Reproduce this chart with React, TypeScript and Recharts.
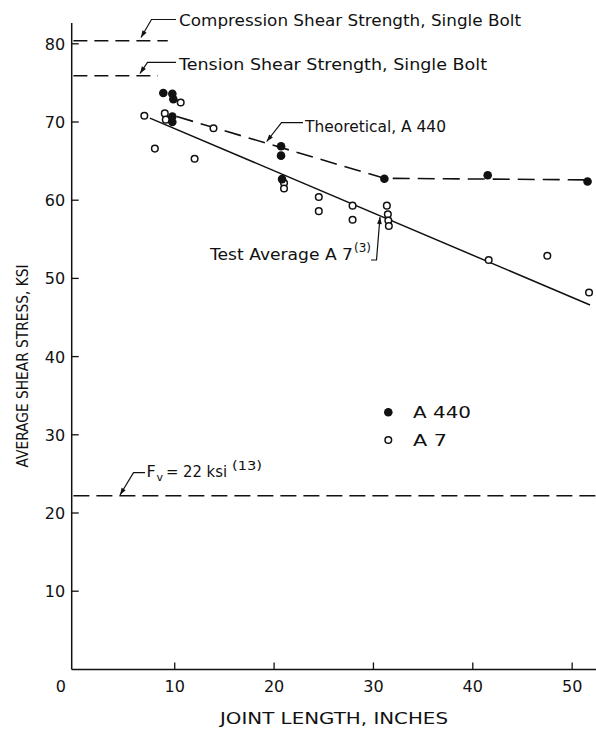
import React from 'react';
import { ComposedChart, XAxis, YAxis, Scatter, Line } from 'recharts';

// ---------- data ----------
const xTicks = [0, 10, 20, 30, 40, 50];
const yTicks = [10, 20, 30, 40, 50, 60, 70, 80];

const a440Length = [8.85, 9.76, 9.86, 9.76, 9.76, 20.7, 20.7, 20.8, 31.1, 41.5, 51.55];
const a440Stress = [73.7, 73.6, 72.9, 70.7, 70.0, 66.9, 65.7, 62.7, 62.75, 63.2, 62.4];

const a7Length = [6.94, 8.0, 9.0, 9.1, 10.6, 12.0, 13.9, 21.0, 21.0, 24.5, 24.5, 27.9, 27.9, 31.35, 31.45, 31.5, 31.55, 41.6, 47.5, 51.7];
const a7Stress = [70.8, 66.6, 71.1, 70.3, 72.5, 65.3, 69.2, 62.2, 61.5, 60.4, 58.6, 59.3, 57.5, 59.3, 58.2, 57.4, 56.7, 52.35, 52.9, 48.2];

const theoreticalLength = [10.2, 31.1, 51.8];
const theoreticalStress = [70.7, 62.8, 62.6];

const testAvgLength = [7.5, 51.8];
const testAvgStress = [70.5, 46.6];

const compressionLength = [-0.2, 9.3];
const compressionStress = [80.4, 80.4];
const tensionLength = [-0.2, 8.3];
const tensionStress = [75.9, 75.9];
const allowableLength = [-0.2, 52.4];
const allowableStress = [22.2, 22.2];

const toPts = (xs: number[], ys: number[]) => xs.map((x, i) => ({ x, y: ys[i] }));

const a440Data = toPts(a440Length, a440Stress);
const a7Data = toPts(a7Length, a7Stress);
const theoreticalData = toPts(theoreticalLength, theoreticalStress);
const testAvgData = toPts(testAvgLength, testAvgStress);
const compressionData = toPts(compressionLength, compressionStress);
const tensionData = toPts(tensionLength, tensionStress);
const allowableData = toPts(allowableLength, allowableStress);

// ---------- style ----------
const FONT = '"DejaVu Sans", sans-serif';
const INK = '#111';

const XTick = (props: any) => {
  const { x, y, payload } = props;
  const v = payload.value;
  if (v === 0) {
    return (
      <text x={x - 14.6} y={y + 22.5} textAnchor="middle" fontSize={16} fontFamily={FONT} fill={INK}>
        0
      </text>
    );
  }
  return (
    <g>
      <line x1={x} y1={y} x2={x} y2={y - 7} stroke={INK} strokeWidth={1.3} />
      <text x={x} y={y + 22.5} textAnchor="middle" fontSize={16} fontFamily={FONT} fill={INK}>
        {v}
      </text>
    </g>
  );
};

const YTick = (props: any) => {
  const { x, y, payload } = props;
  return (
    <g>
      <line x1={x} y1={y} x2={x + 7} y2={y} stroke={INK} strokeWidth={1.3} />
      <text x={x - 6.5} y={y + 6} textAnchor="end" fontSize={16} fontFamily={FONT} fill={INK}>
        {payload.value}
      </text>
    </g>
  );
};

const FilledDot = (p: any) => <circle cx={p.cx} cy={p.cy} r={4.3} fill={INK} />;
const OpenDot = (p: any) => (
  <circle cx={p.cx} cy={p.cy} r={3.3} fill="#fff" stroke={INK} strokeWidth={1.5} />
);

type P = [number, number];
const Leader = ({ pts }: { pts: P[] }) => {
  const [tip, from] = pts;
  const dx = tip[0] - from[0];
  const dy = tip[1] - from[1];
  const L = Math.hypot(dx, dy);
  const ux = dx / L;
  const uy = dy / L;
  const len = 7;
  const half = 2.4;
  const bx = tip[0] - ux * len;
  const by = tip[1] - uy * len;
  const px = -uy;
  const py = ux;
  const poly = `${tip[0]},${tip[1]} ${bx + px * half},${by + py * half} ${bx - px * half},${by - py * half}`;
  return (
    <g>
      <polyline points={pts.map((q) => q.join(',')).join(' ')} fill="none" stroke={INK} strokeWidth={1.2} />
      <polygon points={poly} fill={INK} />
    </g>
  );
};

const txt = { fontFamily: FONT, fill: INK } as const;

export default function App() {
  return (
    <div style={{ position: 'absolute', left: 0, top: 0, width: 596, height: 729, background: '#fff' }}>
      <ComposedChart
        width={596}
        height={729}
        margin={{ top: 23, right: 0, bottom: 29.6, left: 0 }}
        style={{ position: 'absolute', left: 0, top: 0 }}
      >
        <XAxis
          type="number"
          dataKey="x"
          domain={[-0.37, 52.4]}
          allowDataOverflow
          ticks={xTicks}
          interval={0}
          height={30}
          tickSize={0}
          tickMargin={0}
          tickLine={false}
          axisLine={{ stroke: INK, strokeWidth: 1.5 }}
          tick={<XTick />}
        />
        <YAxis
          type="number"
          dataKey="y"
          domain={[0, 82.66]}
          allowDataOverflow
          ticks={yTicks}
          interval={0}
          width={71.7}
          tickSize={0}
          tickMargin={0}
          tickLine={false}
          axisLine={{ stroke: INK, strokeWidth: 1.5 }}
          tick={<YTick />}
        />
        <Line data={compressionData} dataKey="y" type="linear" stroke={INK} strokeWidth={1.5} strokeDasharray="14 7" dot={false} activeDot={false} isAnimationActive={false} />
        <Line data={tensionData} dataKey="y" type="linear" stroke={INK} strokeWidth={1.5} strokeDasharray="14 7" dot={false} activeDot={false} isAnimationActive={false} />
        <Line data={allowableData} dataKey="y" type="linear" stroke={INK} strokeWidth={1.5} strokeDasharray="16 7" dot={false} activeDot={false} isAnimationActive={false} />
        <Line data={theoreticalData} dataKey="y" type="linear" stroke={INK} strokeWidth={1.6} strokeDasharray="17 8" dot={false} activeDot={false} isAnimationActive={false} />
        <Line data={testAvgData} dataKey="y" type="linear" stroke={INK} strokeWidth={1.5} dot={false} activeDot={false} isAnimationActive={false} />
        <Scatter data={a7Data} dataKey="y" shape={<OpenDot />} isAnimationActive={false} />
        <Scatter data={a440Data} dataKey="y" shape={<FilledDot />} isAnimationActive={false} />
      </ComposedChart>
      <svg width={596} height={729} style={{ position: 'absolute', left: 0, top: 0, pointerEvents: 'none' }}>
        {/* axis titles */}
        <text x={334} y={724} textAnchor="middle" fontSize={15} textLength={228} lengthAdjust="spacingAndGlyphs" {...txt}>
          JOINT LENGTH, INCHES
        </text>
        <text
          x={0}
          y={0}
          transform="translate(27.5,366) rotate(-90)"
          textAnchor="middle"
          fontSize={15}
          textLength={203}
          lengthAdjust="spacingAndGlyphs"
          {...txt}
        >
          AVERAGE SHEAR STRESS, KSI
        </text>

        {/* annotations */}
        <Leader pts={[[141, 37.5], [151.5, 19.5], [176, 19.5]]} />
        <text x={179} y={26} fontSize={16} textLength={342} lengthAdjust="spacingAndGlyphs" {...txt}>
          Compression Shear Strength, Single Bolt
        </text>
        <Leader pts={[[140, 73.5], [147.5, 62.3], [176, 62.3]]} />
        <text x={179} y={70} fontSize={16} textLength={308} lengthAdjust="spacingAndGlyphs" {...txt}>
          Tension Shear Strength, Single Bolt
        </text>
        <Leader pts={[[266.7, 141.5], [281.5, 122.7], [303, 122.7]]} />
        <text x={305} y={131.5} fontSize={16} textLength={141} lengthAdjust="spacingAndGlyphs" {...txt}>
          Theoretical, A 440
        </text>
        <Leader pts={[[380, 217], [376.5, 260], [371, 260]]} />
        <text x={210} y={260} fontSize={16} textLength={143} lengthAdjust="spacingAndGlyphs" {...txt}>
          Test Average A 7
        </text>
        <text x={354} y={252} fontSize={12} textLength={17} lengthAdjust="spacingAndGlyphs" {...txt}>
          (3)
        </text>
        <Leader pts={[[120, 495], [133.5, 472.7], [145, 472.7]]} />
        <text x={146.5} y={477} fontSize={16} {...txt}>
          F
        </text>
        <text x={156.5} y={481} fontSize={11} {...txt}>
          v
        </text>
        <text x={166} y={477} fontSize={16} textLength={61} lengthAdjust="spacingAndGlyphs" {...txt}>
          = 22 ksi
        </text>
        <text x={232} y={470} fontSize={12} textLength={30} lengthAdjust="spacingAndGlyphs" {...txt}>
          (13)
        </text>

        {/* legend */}
        <circle cx={388.3} cy={412.3} r={4.3} fill={INK} />
        <text x={413} y={418} fontSize={16} textLength={58} lengthAdjust="spacingAndGlyphs" {...txt}>
          A 440
        </text>
        <circle cx={388.3} cy={440} r={3.3} fill="#fff" stroke={INK} strokeWidth={1.5} />
        <text x={413} y={446} fontSize={16} textLength={34} lengthAdjust="spacingAndGlyphs" {...txt}>
          A 7
        </text>
      </svg>
    </div>
  );
}
